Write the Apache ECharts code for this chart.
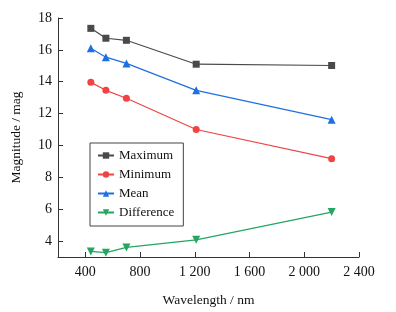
<!DOCTYPE html>
<html>
<head>
<meta charset="utf-8">
<script src="https://cdn.jsdelivr.net/npm/echarts@6/dist/echarts.min.js"></script>
<style>
  html, body { margin: 0; padding: 0; background: #fff; }
  #chart { width: 396px; height: 312px; }
</style>
</head>
<body>
<div id="chart"></div>
<script>
// Wavelength (nm) of each band, and magnitudes
const wavelengths = [440, 550, 700, 1210, 2200];
const maximum = [17.35, 16.73, 16.6, 15.1, 15.02];
const minimum = [13.96, 13.46, 12.96, 11.0, 9.17];
const mean = [16.1, 15.54, 15.15, 13.46, 11.62];
const difference = [3.35, 3.27, 3.6, 4.08, 5.82];
const xTicks = [400, 800, 1200, 1600, 2000, 2400];
const yTicks = [4, 6, 8, 10, 12, 14, 16, 18];

const font = "'Liberation Serif', 'DejaVu Serif', serif";
const axisColor = "#333";

function pairs(ys) { return wavelengths.map((x, i) => [x, ys[i]]); }

function series(name, data, color, symbol, size) {
  return {
    name, type: "line", data: pairs(data),
    symbol, symbolSize: size,
    itemStyle: { color },
    lineStyle: { color, width: 1.2 },
  };
}

const chart = echarts.init(document.getElementById("chart"), null, { renderer: "canvas" });
chart.setOption({
  animation: false,
  textStyle: { fontFamily: font },
  grid: { left: 58, right: 37, top: 18, bottom: 54 },
  legend: {
    orient: "vertical",
    left: 90, top: 143,
    itemWidth: 16, itemHeight: 8, itemGap: 6,
    padding: [6, 9, 7, 7],
    borderColor: "#444", borderWidth: 1,
    textStyle: { fontFamily: font, fontSize: 13, color: "#111" },
    data: ["Maximum", "Minimum", "Mean", "Difference"],
  },
  xAxis: {
    type: "value", min: 200, max: 2400,
    name: "Wavelength / nm", nameLocation: "middle", nameGap: 36,
    nameTextStyle: { fontFamily: font, fontSize: 13.5, color: "#111" },
    axisLine: { lineStyle: { color: axisColor, width: 1 } },
    axisTick: { inside: true, length: 5, customValues: xTicks, lineStyle: { color: axisColor } },
    axisLabel: {
      customValues: xTicks, margin: 8,
      fontFamily: font, fontSize: 14, color: "#111",
      formatter: (v) => v >= 1000 ? String(v).replace(/(\d)(\d{3})$/, "$1 $2") : String(v),
    },
    splitLine: { show: false },
  },
  yAxis: {
    type: "value", min: 3, max: 18,
    name: "Magnitude / mag", nameLocation: "middle", nameGap: 35,
    nameTextStyle: { fontFamily: font, fontSize: 13.5, color: "#111" },
    axisLine: { show: true, lineStyle: { color: axisColor, width: 1 } },
    axisTick: { inside: true, length: 5, customValues: yTicks, lineStyle: { color: axisColor } },
    axisLabel: {
      customValues: yTicks, margin: 6,
      fontFamily: font, fontSize: 14, color: "#111",
    },
    splitLine: { show: false },
  },
  series: [
    series("Maximum", maximum, "#4a4a4a", "rect", 7),
    series("Minimum", minimum, "#f04444", "circle", 7),
    series("Mean", mean, "#1e6fe0", "triangle", 8),
    series("Difference", difference, "#22a660", "path://M0,0 L10,0 L5,9 Z", 8),
  ],
});
</script>
</body>
</html>
